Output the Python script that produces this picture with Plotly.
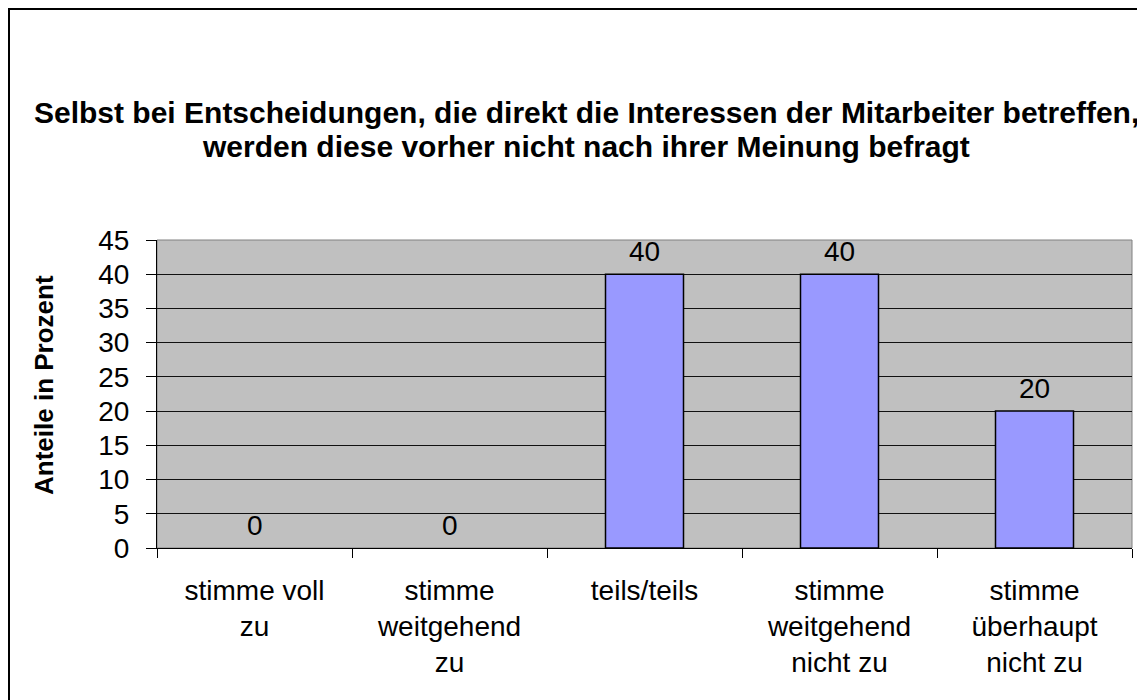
import plotly.graph_objects as go

categories = ["stimme voll zu", "stimme weitgehend zu", "teils/teils",
              "stimme weitgehend nicht zu", "stimme überhaupt nicht zu"]
tick_labels = ["stimme voll<br>zu", "stimme<br>weitgehend<br>zu", "teils/teils",
               "stimme<br>weitgehend<br>nicht zu", "stimme<br>überhaupt<br>nicht zu"]
values = [0, 0, 40, 40, 20]
title_lines = ["Selbst bei Entscheidungen, die direkt die Interessen der Mitarbeiter betreffen,",
               "werden diese vorher nicht nach ihrer Meinung befragt"]
y_title = "Anteile in Prozent"

# page has an 8px body margin; layout positions below are in page pixels
OFF = 8
W, H = 1145 - OFF, 700 - OFF
L, R, T, B = 157, 1132, 240, 548          # plot area in page pixels
FONT = "Liberation Sans, Arial, sans-serif"

def px_x(p):
    return (p - L) / (R - L)

def px_y(p):
    return (B - p) / (B - T)

fig = go.Figure()
fig.add_trace(go.Bar(
    x=categories, y=values, width=0.4,
    marker=dict(color="#9999FF",
                line=dict(color="#000000", width=[1.5 if v > 0 else 0 for v in values])),
    hoverinfo="skip",
))

annotations = []
for c, v in zip(categories, values):
    annotations.append(dict(x=c, y=v, xref="x", yref="y", text=str(v), showarrow=False,
                            yshift=23, font=dict(family=FONT, size=28, color="#000")))
annotations.append(dict(x=px_x(586), y=px_y(113), xref="paper", yref="paper",
                        text="<b>%s</b>" % title_lines[0], showarrow=False,
                        xanchor="center", yanchor="middle",
                        font=dict(family=FONT, size=30, color="#000")))
annotations.append(dict(x=px_x(586), y=px_y(146), xref="paper", yref="paper",
                        text="<b>%s</b>" % title_lines[1], showarrow=False,
                        xanchor="center", yanchor="middle",
                        font=dict(family=FONT, size=30, color="#000")))
annotations.append(dict(x=px_x(44), y=px_y(385), xref="paper", yref="paper",
                        text="<b>%s</b>" % y_title, showarrow=False, textangle=-90,
                        xanchor="center", yanchor="middle",
                        font=dict(family=FONT, size=26, color="#000")))

shapes = [
    dict(type="rect", xref="paper", yref="paper",
         x0=px_x(OFF + 1), x1=px_x(1200), y0=px_y(OFF + 1), y1=px_y(760),
         line=dict(color="#000", width=2), fillcolor="rgba(0,0,0,0)", layer="below"),
    dict(type="rect", xref="paper", yref="paper", x0=0, x1=1, y0=0, y1=1,
         line=dict(color="#808080", width=1), fillcolor="rgba(0,0,0,0)", layer="below"),
]

fig.update_layout(
    width=W, height=H,
    margin=dict(l=L - OFF, r=W - (R - OFF), t=T - OFF, b=H - (B - OFF), pad=0),
    paper_bgcolor="#FFFFFF", plot_bgcolor="#C0C0C0",
    showlegend=False, bargap=0.6,
    annotations=annotations, shapes=shapes,
    font=dict(family=FONT, size=28, color="#000"),
)
fig.update_xaxes(
    type="category", tickmode="array", tickvals=categories, ticktext=tick_labels,
    tickson="boundaries", ticks="outside", ticklen=9, tickcolor="#000", tickwidth=1,
    showline=True, linecolor="#000", linewidth=1, showgrid=False,
    tickfont=dict(family=FONT, size=28, color="#000"), ticklabelstandoff=17,
)
fig.update_yaxes(
    range=[0, 45], dtick=5, tick0=0, ticks="outside", ticklen=10, tickcolor="#000",
    tickwidth=1, showline=True, linecolor="#000", linewidth=1,
    showgrid=True, gridcolor="#111", gridwidth=1, zeroline=False,
    tickfont=dict(family=FONT, size=28, color="#000"), ticklabelstandoff=11,
)

fig.write_html("out.html")
